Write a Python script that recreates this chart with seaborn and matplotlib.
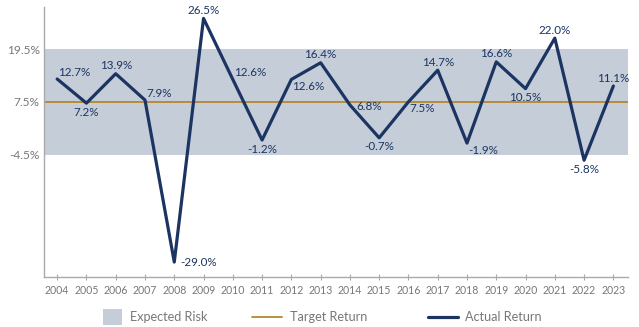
import matplotlib
matplotlib.use("Agg")
import matplotlib.pyplot as plt
import seaborn as sns
import pandas as pd
from matplotlib.patches import Patch
from matplotlib.lines import Line2D

years = [str(y) for y in range(2004, 2024)]
actual_return = [12.7, 7.2, 13.9, 7.9, -29.0, 26.5, 12.6, -1.2, 12.6, 16.4,
                 6.8, -0.7, 7.5, 14.7, -1.9, 16.6, 10.5, 22.0, -5.8, 11.1]
target_return = 7.5
risk_low, risk_high = -4.5, 19.5
y_ticks = [19.5, 7.5, -4.5]
legend_labels = ["Expected Risk", "Target Return", "Actual Return"]

# label placement style per point
placement = ["ar", "b", "a", "ar", "r", "a", "ar", "b", "br", "a",
             "rb", "b", "br", "a", "br", "a", "b", "a", "b", "a"]

NAVY = "#1b3461"
GOLD = "#b3882c"
BAND = "#c5cdd9"
GRAY = "#777777"

sns.set_theme(style="white")
plt.rcParams["font.family"] = ["Lato", "DejaVu Sans"]

df = pd.DataFrame({"idx": range(len(years)), "year": years, "ret": actual_return})

fig = plt.figure(figsize=(6.39, 3.27), dpi=100)
ax = fig.add_axes([44 / 639, 1 - 277 / 327, (628 - 44) / 639, (277 - 7) / 327])

ax.axhspan(risk_low, risk_high, color=BAND, zorder=0, lw=0)
ax.axhline(target_return, color=GOLD, lw=1.3, zorder=1)
sns.lineplot(data=df, x="idx", y="ret", ax=ax, color=NAVY, lw=2.3, zorder=3)

px = 72 / 100.0  # points per pixel
offsets = {"a": ((0, 8), "center"), "b": ((0, -9), "center"), "ar": ((1, 6.5), "left"),
           "br": ((1, -7), "left"), "r": ((6, 0), "left"), "rb": ((6, -2), "left")}
for i, (v, p) in enumerate(zip(actual_return, placement)):
    off, ha = offsets[p]
    ax.annotate(f"{v:.1f}%", (i, v), xytext=(off[0] * px, off[1] * px),
                textcoords="offset points", ha=ha, va="center", color=NAVY,
                fontsize=8.4, zorder=4)

ax.set_xlim(-0.45, 19.5)
ax.set_ylim(-32.4, 29.1)
ax.set_xticks(range(len(years)))
ax.set_xticklabels(years)
ax.set_yticks(y_ticks)
ax.set_yticklabels([f"{t}%" for t in y_ticks])
ax.set_xlabel("")
ax.set_ylabel("")

for s in ["top", "right"]:
    ax.spines[s].set_visible(False)
for s in ["left", "bottom"]:
    ax.spines[s].set_color("#aaaaaa")
    ax.spines[s].set_linewidth(1.0)

ax.tick_params(axis="x", direction="inout", length=5, width=0.8, color="#aaaaaa",
               labelsize=7.6, labelcolor=GRAY, pad=3, bottom=True)
ax.tick_params(axis="y", length=0, labelsize=8.6, labelcolor=GRAY, pad=3)

handles = [Patch(facecolor=BAND, edgecolor="none"),
           Line2D([0], [0], color=GOLD, lw=1.3),
           Line2D([0], [0], color=NAVY, lw=2.3)]
leg_x = [103, 252, 428]
leg_hl = [1.5, 2.37, 2.37]
leg_hh = [1.6, 0.7, 0.7]
leg_pad = [0.63, 0.63, 0.55]
for h, lab, x, hl, hh, tp in zip(handles, legend_labels, leg_x, leg_hl, leg_hh, leg_pad):
    fig.legend([h], [lab], loc="center left", bbox_to_anchor=(x / 639, 1 - 317 / 327),
               frameon=False, fontsize=9.1, labelcolor=GRAY, borderpad=0, borderaxespad=0,
               handlelength=hl, handleheight=hh, handletextpad=tp)

fig.savefig("out.png", dpi=100)
